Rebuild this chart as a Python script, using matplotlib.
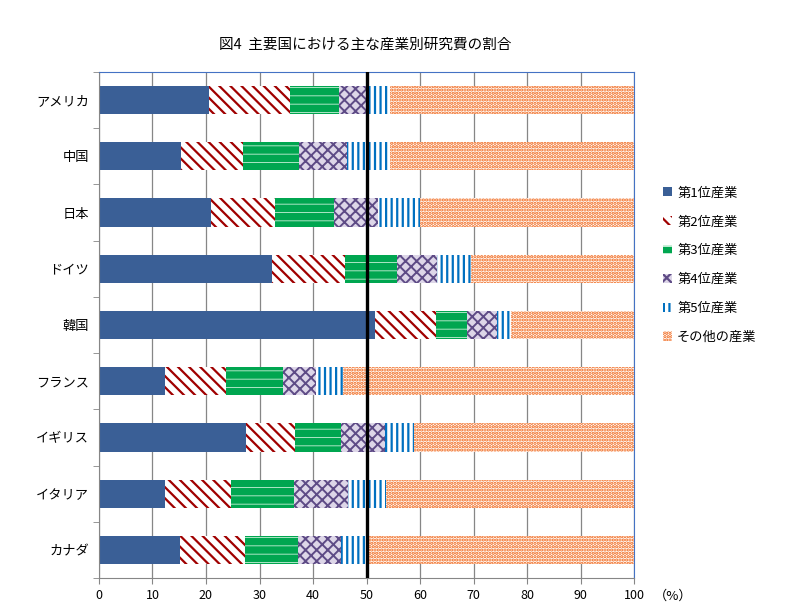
import numpy as np
import matplotlib.pyplot as plt

plt.rcParams['font.family'] = ['Noto Sans CJK JP', 'DejaVu Sans']
plt.rcParams['hatch.linewidth'] = 1.6

countries = ['アメリカ', '中国', '日本', 'ドイツ', '韓国', 'フランス', 'イギリス', 'イタリア', 'カナダ']
labels = ['第1位産業', '第2位産業', '第3位産業', '第4位産業', '第5位産業', 'その他の産業']

# share of each rank (%) per country
rank1 = [20.6, 15.4, 20.9, 32.3, 51.6, 12.3, 27.5, 12.3, 15.1]
rank2 = [15.1, 11.6, 12.0, 13.6, 11.3, 11.4, 9.1, 12.4, 12.2]
rank3 = [9.2, 10.4, 11.1, 9.7, 5.9, 10.6, 8.6, 11.7, 9.8]
rank4 = [5.0, 9.0, 8.1, 7.5, 5.5, 6.3, 8.2, 10.2, 8.2]
rank5 = [4.5, 8.0, 7.8, 6.4, 2.7, 4.9, 5.4, 7.0, 4.6]
others = [45.6, 45.6, 40.1, 30.5, 23.0, 54.5, 41.2, 46.4, 50.1]

series = [rank1, rank2, rank3, rank4, rank5, others]
faces = ['#3a5f96', 'white', '#00a650', '#ddd6e8', 'white', 'white']
hatch_cols = ['#3a5f96', '#a00000', '#c8f0d8', '#5e4b86', '#0070c0', '#f06010']
hatches = [None, '\\\\\\', '--', 'xxx', '|||', '.....']
hatch_lw = [1.0, 1.6, 0.6, 1.4, 1.6, 1.6]

fig = plt.figure(figsize=(7.85, 6.15), dpi=100)
ax = fig.add_axes([0.126, 0.060, 0.682, 0.823])

y = np.arange(len(countries))
left = np.zeros(len(countries))
handles = []
for vals, fc, hc, h, hl, lab in zip(series, faces, hatch_cols, hatches, hatch_lw, labels):
    b = ax.barh(y, vals, left=left, height=0.5, color=fc, edgecolor=hc,
                hatch=h, linewidth=0, label=lab, zorder=2)
    for p in b:
        if hasattr(p, 'set_hatch_linewidth'):
            p.set_hatch_linewidth(hl)
    handles.append(b)
    left += np.array(vals)

ax.axvline(50, color='black', linewidth=2.4, zorder=3)

ax.set_xlim(0, 100)
ax.set_ylim(len(countries) - 0.5, -0.5)
ax.set_xticks(np.arange(0, 101, 10))
ax.set_yticks(y)
ax.set_yticklabels(countries, fontsize=9.5)
ax.set_yticks(np.arange(-0.5, len(countries), 1), minor=True)
ax.tick_params(axis='y', which='major', length=0, pad=7)
ax.tick_params(axis='y', which='minor', length=4, color='#868686')
ax.tick_params(axis='x', length=4, color='#868686', labelsize=9)
ax.grid(axis='x', color='#868686', linewidth=0.9, zorder=0)
ax.set_axisbelow(True)

for s in ['top', 'right']:
    ax.spines[s].set_color('#4472c4')
for s in ['left', 'bottom']:
    ax.spines[s].set_color('#868686')

fig.text(0.857, 0.030, '（%）', fontsize=9.5, ha='center', va='center')
fig.text(0.465, 0.927, '図4  主要国における主な産業別研究費の割合', fontsize=10.5, ha='center', va='center')

fig.legend(handles=handles, labels=labels, loc='center left',
           bbox_to_anchor=(0.829, 0.569), frameon=False, fontsize=9.5,
           handlelength=0.7, handleheight=0.7, handletextpad=0.4, labelspacing=1.2)

fig.savefig('out.png', dpi=100)
